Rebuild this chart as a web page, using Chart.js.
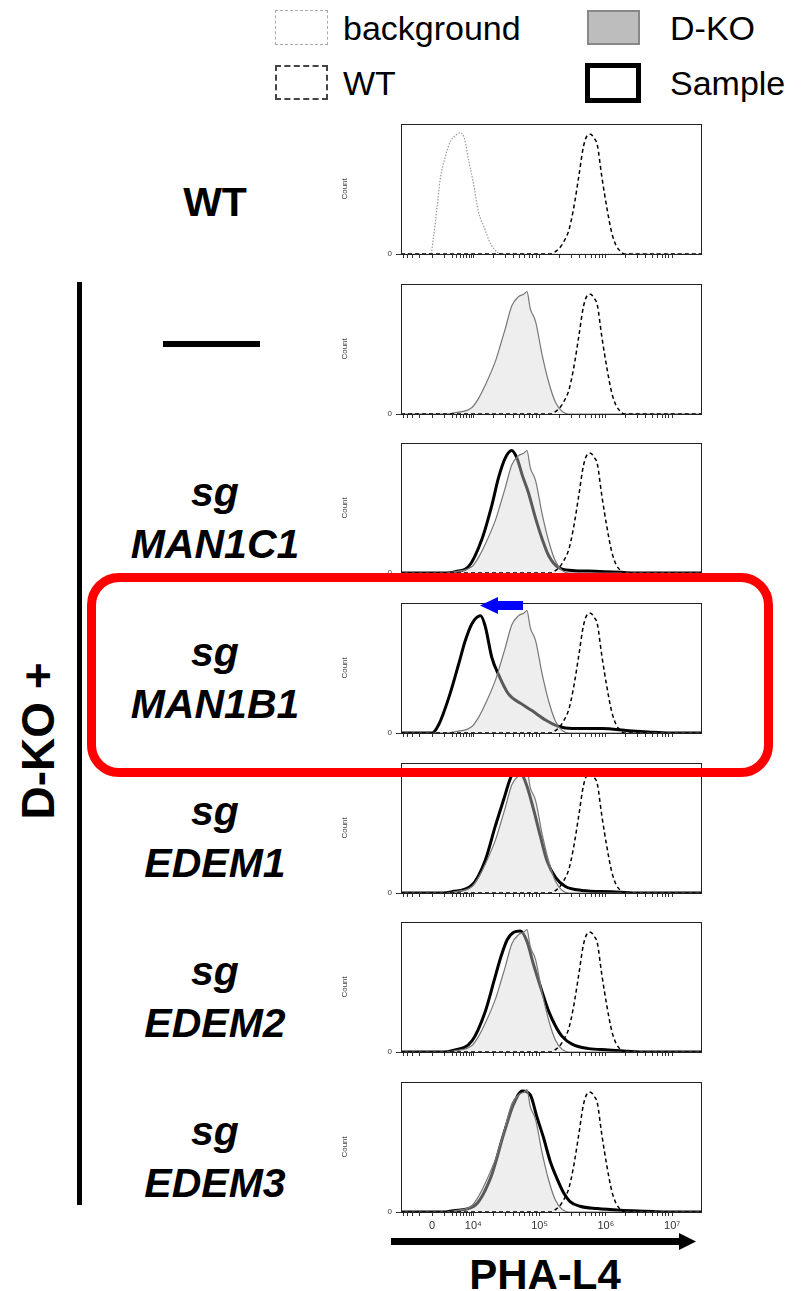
<!DOCTYPE html>
<html>
<head>
<meta charset="utf-8">
<script src="https://cdn.jsdelivr.net/npm/chart.js@4"></script>
<style>
  body { margin: 0; background: #fff; }
  #page { position: relative; width: 808px; height: 1291px; overflow: hidden; font-family: "Liberation Sans", Arial, sans-serif; color: #000; }
  canvas.panel { position: absolute; left: 335px; }
  .lab { position: absolute; left: 95px; width: 240px; font-weight: bold; font-style: italic; font-size: 41px; line-height: 52px; text-align: center; }
  .leg { position: absolute; font-size: 34px; line-height: 34px; white-space: nowrap; }
  .box { position: absolute; box-sizing: border-box; }
</style>
</head>
<body>
<div id="page">
  <!-- legend -->
  <div class="box" style="left:275px;top:10px;width:53px;height:35px;border:1.5px dashed #aaa;"></div>
  <div class="leg" style="left:343px;top:11px;">background</div>
  <div class="box" style="left:275px;top:65px;width:53px;height:35px;border:2px dashed #444;"></div>
  <div class="leg" style="left:343px;top:66px;">WT</div>
  <div class="box" style="left:587px;top:10px;width:53px;height:35px;background:#bdbdbd;border:2px solid #888;"></div>
  <div class="leg" style="left:670px;top:11px;">D-KO</div>
  <div class="box" style="left:585px;top:63px;width:56px;height:40px;border:5px solid #000;"></div>
  <div class="leg" style="left:670px;top:66px;">Sample</div>

  <!-- row labels -->
  <div class="lab" style="top:176px;font-style:normal;">WT</div>
  <div class="box" style="left:163px;top:341px;width:97px;height:6px;background:#000;"></div>
  <div class="lab" style="top:466px;">sg<br>MAN1C1</div>
  <div class="lab" style="top:626px;">sg<br>MAN1B1</div>
  <div class="lab" style="top:785px;">sg<br>EDEM1</div>
  <div class="lab" style="top:945px;">sg<br>EDEM2</div>
  <div class="lab" style="top:1105px;">sg<br>EDEM3</div>

  <div class="box" style="left:77px;top:282px;width:5px;height:923px;background:#000;"></div>
  <div style="position:absolute;left:38px;top:741px;transform:translate(-50%,-50%) rotate(-90deg);font-weight:bold;font-size:46px;white-space:nowrap;">D-KO +</div>

  <div id="charts"></div>

  <div class="box" style="left:87px;top:573px;width:686px;height:204px;border:9px solid #ff0000;border-radius:32px;z-index:5;"></div>
  <svg style="position:absolute;left:0;top:0;z-index:6;" width="808" height="1291">
    <polygon points="480,605.5 498,597 498,601 523,601 523,610 498,610 498,614" fill="#0000ff"/>
    <polygon points="391,1238 679,1238 679,1233 696,1241.5 679,1250 679,1245 391,1245" fill="#000"/>
  </svg>
  <div style="position:absolute;left:445px;width:200px;top:1254px;text-align:center;font-weight:bold;font-size:42px;line-height:42px;">PHA-L4</div>
</div>

<script>
// x positions are in decades of PHA-L4 intensity on the biexponential axis
const X_MIN = 2.91, X_MAX = 7.45;
const tickValues = [2.95, 3.01, 3.08, 3.19, 3.38, 3.57, 3.68, 3.75, 3.81, 3.86, 3.90, 3.94, 3.97,
  4, 4.30, 4.48, 4.60, 4.70, 4.78, 4.85, 4.90, 4.95,
  5, 5.30, 5.48, 5.60, 5.70, 5.78, 5.85, 5.90, 5.95,
  6, 6.30, 6.48, 6.60, 6.70, 6.78, 6.85, 6.90, 6.95, 7];
const tickLabels = { 3.38: '0', 4: '10\u2074', 5: '10\u2075', 6: '10\u2076', 7: '10\u2077' };

// histogram heights in % of the panel
const bgX = [2.91, 3.36, 3.40, 3.45, 3.50, 3.58, 3.65, 3.73, 3.80, 3.84, 3.88, 3.93, 4.00, 4.08, 4.16, 4.26, 4.36, 4.45, 7.45];
const bgY = [0, 0, 13, 34, 57, 75, 86, 91, 93, 92, 86, 72, 55, 32, 21, 8, 1.5, 0, 0];

const wtX = [2.91, 5.15, 5.29, 5.36, 5.44, 5.51, 5.59, 5.66, 5.72, 5.77, 5.82, 5.87, 5.94, 6.02, 6.09, 6.15, 6.22, 6.28, 7.45];
const wtY = [0, 0, 4, 9, 18, 34, 59, 82, 91, 92, 89, 84, 59, 34, 16, 7, 2, 0, 0];

const dkoX = [2.91, 3.60, 3.73, 3.98, 4.08, 4.18, 4.33, 4.41, 4.48, 4.58, 4.68, 4.76, 4.81, 4.86, 4.94, 5.04, 5.14, 5.24, 5.34, 5.44, 7.45];
const dkoY = [0, 0, 1, 5, 12, 22, 40, 53, 65, 83, 90, 92, 94, 81, 71, 45, 24, 9, 2, 0, 0];

const man1c1X = [2.91, 3.60, 3.73, 3.93, 4.13, 4.28, 4.38, 4.48, 4.58, 4.66, 4.74, 4.83, 4.94, 5.04, 5.14, 5.29, 5.49, 5.84, 6.24, 6.44, 7.45];
const man1c1Y = [0, 0, 1, 5, 26, 52, 73, 88, 94, 88, 75, 62, 42, 26, 13, 4, 2, 1.3, 0.5, 0, 0];

const man1b1X = [2.91, 3.38, 3.48, 3.63, 3.78, 3.88, 3.98, 4.11, 4.18, 4.28, 4.38, 4.53, 4.74, 4.89, 5.09, 5.29, 5.49, 5.94, 6.34, 6.64, 6.95, 7.45];
const man1b1Y = [0, 0, 6.5, 27, 53, 71, 84, 90, 82, 58, 45, 30, 22, 17, 10, 5, 3.4, 3.4, 1.8, 0.8, 0, 0];

const edem1X = [2.91, 3.55, 3.68, 3.98, 4.18, 4.33, 4.46, 4.56, 4.63, 4.71, 4.81, 4.91, 5.01, 5.11, 5.24, 5.39, 5.64, 6.09, 6.44, 7.45];
const edem1Y = [0, 0, 1, 6, 25, 51, 72, 88, 94, 93, 82, 64, 44, 25, 12, 5, 2, 1, 0, 0];

const edem2X = [2.91, 3.55, 3.68, 3.98, 4.18, 4.31, 4.41, 4.51, 4.61, 4.71, 4.81, 4.91, 5.04, 5.14, 5.24, 5.34, 5.49, 5.74, 6.04, 6.34, 6.55, 7.45];
const edem2Y = [0, 0, 1, 8.5, 31, 54, 72, 86, 92, 93, 85, 67, 46, 31, 20, 12, 6, 2.6, 1.6, 0.5, 0, 0];

const edem3X = [2.91, 3.58, 3.70, 4.01, 4.26, 4.46, 4.61, 4.74, 4.86, 4.96, 5.06, 5.16, 5.26, 5.36, 5.46, 5.61, 5.87, 6.22, 6.62, 6.87, 7.45];
const edem3Y = [0, 0, 1, 4.4, 26, 60, 83, 93, 90, 73, 57, 39, 26, 15, 8, 4.4, 2.6, 1.3, 0.5, 0, 0];

const samples = [null, null, [man1c1X, man1c1Y], [man1b1X, man1b1Y], [edem1X, edem1Y], [edem2X, edem2Y], [edem3X, edem3Y]];
const panelTops = [124, 284, 443, 603, 763, 922, 1082];

const pts = (xs, ys) => xs.map((x, i) => ({ x, y: ys[i] }));

const framePlugin = {
  id: 'frame',
  afterDraw(chart) {
    const { ctx, chartArea: a } = chart;
    ctx.save();
    ctx.strokeStyle = '#222';
    ctx.lineWidth = 1;
    ctx.strokeRect(Math.round(a.left) + 0.5, Math.round(a.top) + 0.5, Math.round(a.right - a.left) - 1, Math.round(a.bottom - a.top));
    ctx.restore();
  }
};

const line = { pointRadius: 0, cubicInterpolationMode: 'monotone', fill: false };

panelTops.forEach((top, i) => {
  const canvas = document.createElement('canvas');
  canvas.className = 'panel';
  canvas.width = 372;
  canvas.height = 163;
  canvas.style.top = (top - 9) + 'px';
  document.getElementById('charts').appendChild(canvas);

  const datasets = [
    { ...line, label: 'WT', data: pts(wtX, wtY), borderColor: '#000', borderWidth: 1.5, borderDash: [4, 3] },
  ];
  if (i === 0) {
    datasets.push({ ...line, label: 'background', data: pts(bgX, bgY), borderColor: '#9a9a9a', borderWidth: 1.2, borderDash: [1.5, 1.5] });
  } else {
    datasets.push({ ...line, label: 'D-KO', data: pts(dkoX, dkoY), borderColor: '#777', borderWidth: 1.2,
      fill: 'origin', backgroundColor: 'rgba(215,215,215,0.42)' });
  }
  if (samples[i]) {
    datasets.push({ ...line, label: 'Sample', data: pts(samples[i][0], samples[i][1]), borderColor: '#000', borderWidth: 3 });
  }
  const isLast = i === panelTops.length - 1;

  new Chart(canvas, {
    type: 'line',
    data: { datasets },
    options: {
      responsive: false,
      animation: false,
      layout: { autoPadding: false, padding: { top: 0, right: 5, left: 0, bottom: 0 } },
      plugins: { legend: { display: false }, tooltip: { enabled: false } },
      scales: {
        x: {
          type: 'linear', min: X_MIN, max: X_MAX,
          afterBuildTicks: axis => { axis.ticks = tickValues.map(v => ({ value: v })); },
          afterFit: axis => { axis.height = 24; },
          ticks: {
            autoSkip: false, maxRotation: 0, padding: 3, color: '#333',
            font: { size: 11, family: 'Liberation Sans, DejaVu Sans' },
            callback: (v, idx) => isLast ? (tickLabels[tickValues[idx]] || '') : ''
          },
          grid: { drawOnChartArea: false, tickLength: 4, tickColor: '#333' },
          border: { display: false }
        },
        y: {
          min: 0, max: 100,
          afterBuildTicks: axis => { axis.ticks = [{ value: 0 }]; },
          afterFit: axis => { axis.width = 66; },
          ticks: { padding: 4, color: '#333', font: { size: 8 } },
          grid: { drawOnChartArea: false, tickLength: 5, tickColor: '#333' },
          border: { display: false },
          title: { display: true, text: 'Count', color: '#444', padding: 5,
            font: { size: 8, family: 'Liberation Sans Narrow, Liberation Sans' } }
        }
      }
    },
    plugins: [framePlugin]
  });
});
</script>
</body>
</html>
